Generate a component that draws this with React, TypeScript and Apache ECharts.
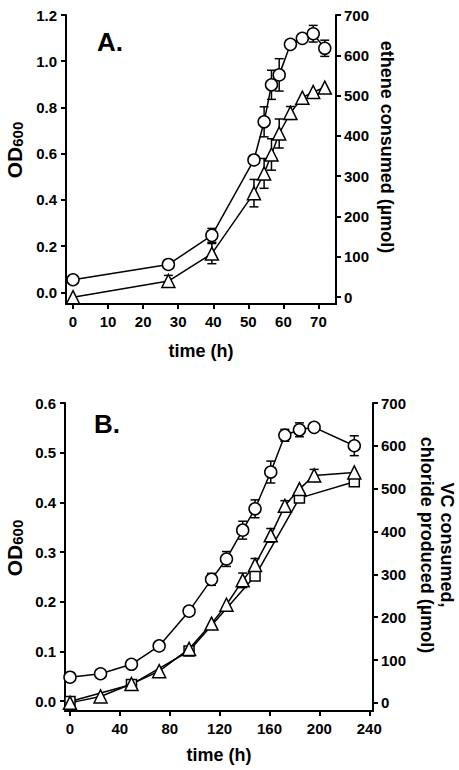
import React, { useEffect, useRef } from 'react';
import * as echarts from 'echarts';

// ---------- Panel A data ----------
const timeA = [0, 27.2, 39.6, 51.6, 54.5, 56.6, 58.8, 62, 65.4, 68.5, 71.8];
const odA = [0.055, 0.121, 0.247, 0.573, 0.738, 0.898, 0.941, 1.073, 1.099, 1.119, 1.056];
const odAErr = [0, 0, 0.03, 0, 0.065, 0.063, 0.07, 0, 0, 0.036, 0.035];
const etheneA = [0, 40, 108, 258, 307, 354, 406, 457, 495, 509, 520];
const etheneAErr = [0, 14, 25, 34, 37, 39, 36, 16, 0, 0, 0];

// ---------- Panel B data ----------
const timeB = [0, 24.5, 49.3, 71.5, 95.5, 113.5, 125.5, 138.5, 148.4, 161, 172.3, 184, 195.8, 228];
const odB = [0.048, 0.055, 0.074, 0.111, 0.181, 0.245, 0.286, 0.344, 0.387, 0.461, 0.535, 0.546, 0.551, 0.514];
const odBErr = [0, 0, 0, 0, 0, 0.012, 0.015, 0.018, 0.018, 0.022, 0.012, 0.014, 0, 0.02];
const vcB = [0, 15, 44, 74, 126, 185, 229, 286, 322, 391, 460, 499, 531, 538];
const vcBErr = [0, 0, 0, 0, 0, 0, 0, 17, 15, 16, 12, 0, 14, 0];
const timeBCl = [0, 49.3, 95.5, 148.4, 184, 228];
const chlorideB = [3, 43, 121, 296, 478, 516];

// ---------- Tick labels ----------
const xTicksA = [0, 10, 20, 30, 40, 50, 60, 70];
const xTicksB = [0, 40, 80, 120, 160, 200, 240];
const odTicksA = [0, 0.2, 0.4, 0.6, 0.8, 1.0, 1.2];
const odTicksB = [0, 0.1, 0.2, 0.3, 0.4, 0.5, 0.6];
const umolTicks = [0, 100, 200, 300, 400, 500, 600, 700];

const FONT = '"Liberation Sans", Arial, Helvetica, sans-serif';

function valueAxis(ticks: number[], fmt: (v: number) => string, margin: number) {
  return {
    type: 'value',
    splitLine: { show: false },
    axisLine: { show: true, onZero: false, lineStyle: { color: '#000', width: 2 } },
    axisTick: { show: true, inside: false, length: 5, lineStyle: { color: '#000', width: 2 }, customValues: ticks },
    axisLabel: {
      color: '#000', fontSize: 15, fontWeight: 'bold', fontFamily: FONT, margin,
      customValues: ticks, formatter: fmt,
    },
  };
}

function lineSeries(xs: number[], ys: number[], symbol: string, size: number, xi: number, yi: number) {
  return {
    type: 'line', xAxisIndex: xi, yAxisIndex: yi, z: 3,
    data: xs.map((x, i) => [x, ys[i]]),
    symbol, symbolSize: size, showSymbol: true, showAllSymbol: true,
    lineStyle: { color: '#000', width: 1.5 },
    itemStyle: { color: '#fff', borderColor: '#000', borderWidth: 1.5 },
    emphasis: { disabled: true }, silent: true,
  };
}

function errSeries(xs: number[], ys: number[], es: number[], xi: number, yi: number) {
  return {
    type: 'custom', xAxisIndex: xi, yAxisIndex: yi, z: 2, silent: true, clip: false,
    data: xs.map((x, i) => [x, ys[i], es[i]]).filter((d) => d[2] > 0),
    renderItem: (params: any, api: any) => {
      const x = api.value(0), y = api.value(1), e = api.value(2);
      const hi = api.coord([x, y + e]);
      const lo = api.coord([x, y - e]);
      const hw = 4.5;
      const st = { stroke: '#000', lineWidth: 1.5 };
      return {
        type: 'group',
        children: [
          { type: 'line', shape: { x1: hi[0], y1: hi[1], x2: lo[0], y2: lo[1] }, style: st },
          { type: 'line', shape: { x1: hi[0] - hw, y1: hi[1], x2: hi[0] + hw, y2: hi[1] }, style: st },
          { type: 'line', shape: { x1: lo[0] - hw, y1: lo[1], x2: lo[0] + hw, y2: lo[1] }, style: st },
        ],
      };
    },
  };
}

const nameStyle = { fontSize: 18, fontWeight: 'bold', color: '#000', fontFamily: FONT };
const odRich = {
  a: { fontSize: 21, fontWeight: 'bold', fontFamily: FONT, fill: '#000' },
  b: { fontSize: 15, fontWeight: 'bold', fontFamily: FONT, fill: '#000', verticalAlign: 'bottom' },
};

export default function App() {
  const ref = useRef<HTMLDivElement>(null);
  useEffect(() => {
    if (!ref.current) return;
    const chart = echarts.init(ref.current, null, { renderer: 'svg' });
    const f1 = (v: number) => v.toFixed(1);
    const f0 = (v: number) => String(Math.round(v));
    chart.setOption({
      animation: false,
      backgroundColor: '#fff',
      grid: [
        { left: 66, right: 123, top: 15, bottom: 466, containLabel: false },
        { left: 65, right: 86, top: 403, bottom: 59, containLabel: false },
      ],
      xAxis: [
        {
          ...valueAxis(xTicksA, f0, 10), gridIndex: 0, min: -2, max: 75, position: 'bottom',
          name: 'time (h)', nameLocation: 'middle', nameGap: 38, nameTextStyle: nameStyle,
        },
        {
          ...valueAxis(xTicksB, f0, 10), gridIndex: 1, min: -4, max: 243, position: 'bottom',
          name: 'time (h)', nameLocation: 'middle', nameGap: 35, nameTextStyle: nameStyle,
        },
      ],
      yAxis: [
        { ...valueAxis(odTicksA, f1, 9), gridIndex: 0, min: -0.05, max: 1.2, position: 'left' },
        { ...valueAxis(umolTicks, f0, 8), gridIndex: 0, min: -17, max: 700, position: 'right' },
        { ...valueAxis(odTicksB, f1, 9), gridIndex: 1, min: -0.02, max: 0.6, position: 'left' },
        { ...valueAxis(umolTicks, f0, 8), gridIndex: 1, min: -19, max: 700, position: 'right' },
      ],
      graphic: [
        { type: 'text', x: 97, y: 42, style: { text: 'A.', font: `bold 26px ${FONT}`, fill: '#000', verticalAlign: 'middle', align: 'left' } },
        { type: 'text', x: 94, y: 424, style: { text: 'B.', font: `bold 26px ${FONT}`, fill: '#000', verticalAlign: 'middle', align: 'left' } },
        { type: 'text', x: 14.5, y: 150, rotation: Math.PI / 2, style: { text: '{a|OD}{b|600}', rich: odRich, align: 'center', verticalAlign: 'middle' } },
        { type: 'text', x: 14.5, y: 548, rotation: Math.PI / 2, style: { text: '{a|OD}{b|600}', rich: odRich, align: 'center', verticalAlign: 'middle' } },
        { type: 'text', x: 387, y: 147, rotation: -Math.PI / 2, style: { text: 'ethene consumed (µmol)', font: `bold 18px ${FONT}`, fill: '#000', align: 'center', verticalAlign: 'middle' } },
        { type: 'text', x: 437, y: 545, rotation: -Math.PI / 2, style: { text: 'VC consumed,\nchloride produced (µmol)', font: `bold 18px ${FONT}`, lineHeight: 20, fill: '#000', align: 'center', verticalAlign: 'middle' } },
      ],
      series: [
        errSeries(timeA, odA, odAErr, 0, 0),
        errSeries(timeA, etheneA, etheneAErr, 0, 1),
        lineSeries(timeA, odA, 'circle', 12, 0, 0),
        lineSeries(timeA, etheneA, 'triangle', 13, 0, 1),
        errSeries(timeB, odB, odBErr, 1, 2),
        errSeries(timeB, vcB, vcBErr, 1, 3),
        lineSeries(timeB, odB, 'circle', 12, 1, 2),
        lineSeries(timeBCl, chlorideB, 'rect', 10, 1, 3),
        lineSeries(timeB, vcB, 'triangle', 13, 1, 3),
      ],
    });
    return () => chart.dispose();
  }, []);
  return (
    <div
      ref={ref}
      style={{ position: 'fixed', left: 0, top: 0, width: 459, height: 770, background: '#fff' }}
    />
  );
}
